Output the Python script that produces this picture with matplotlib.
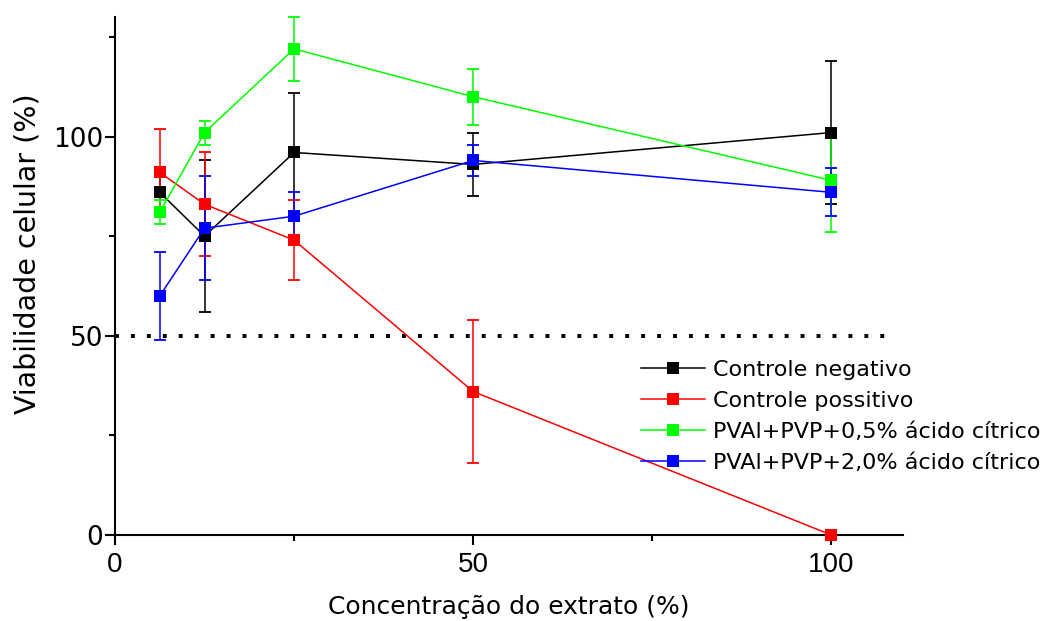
import matplotlib
matplotlib.use("Agg")
import matplotlib.pyplot as plt
from matplotlib.ticker import FixedLocator

plt.rcParams['font.family'] = ['DejaVu Sans']

# Extract concentration (%)
conc = [6.25, 12.5, 25, 50, 100]

# Cell viability (%) and standard deviations
neg_mean = [86, 75, 96, 93, 101]
neg_err = [5, 19, 15, 8, 18]

pos_mean = [91, 83, 74, 36, 0]
pos_err = [11, 13, 10, 18, 0]

pva05_mean = [81, 101, 122, 110, 89]
pva05_err = [3, 3, 8, 7, 13]

pva20_mean = [60, 77, 80, 94, 86]
pva20_err = [11, 13, 6, 4, 6]

labels = ["Controle negativo", "Controle possitivo",
          "PVAl+PVP+0,5% ácido cítrico", "PVAl+PVP+2,0% ácido cítrico"]
colors = ["#000000", "#ff0000", "#00ff00", "#0000ff"]

threshold = 50

fig = plt.figure(figsize=(10.54, 6.21), dpi=100)
ax = fig.add_axes([115 / 1054, 1 - 535 / 621, (903 - 115) / 1054, (535 - 17) / 621])

series = [(neg_mean, neg_err), (pos_mean, pos_err),
          (pva05_mean, pva05_err), (pva20_mean, pva20_err)]
for (m, e), lab, c in zip(series, labels, colors):
    ax.errorbar(conc, m, yerr=e, fmt='none', ecolor=c, elinewidth=1.1,
                capsize=4.4, capthick=1.3, clip_on=False, zorder=3)
    ax.plot(conc, m, color=c, lw=1.1, marker='s', markersize=9,
            markeredgewidth=0, label=lab, clip_on=False, zorder=4)

# Cytotoxicity threshold
ax.plot([0, 108.5], [threshold, threshold], color='black', lw=2.8,
        linestyle=(0, (1, 3.1)), dash_capstyle='butt', zorder=2)

ax.set_xlim(0, 110)
ax.set_ylim(0, 130)
ax.xaxis.set_major_locator(FixedLocator([0, 50, 100]))
ax.xaxis.set_minor_locator(FixedLocator([25, 75]))
ax.yaxis.set_major_locator(FixedLocator([0, 50, 100]))
ax.yaxis.set_minor_locator(FixedLocator([25, 75, 125]))

for s in ['top', 'right']:
    ax.spines[s].set_visible(False)
for s in ['left', 'bottom']:
    ax.spines[s].set_linewidth(1.5)

ax.tick_params(which='major', direction='out', length=7.5, width=1.5)
ax.tick_params(which='minor', direction='out', length=4.5, width=1.5)
ax.tick_params(axis='y', which='major', labelsize=19, pad=1)
ax.tick_params(axis='x', which='major', labelsize=19, pad=5)
for t in ax.get_xticklabels():
    t.set_fontfamily('Liberation Sans')
    t.set_fontsize(20)

ax.set_xlabel("Concentração do extrato (%)", fontsize=18, labelpad=12)
fig.text(28 / 1054, 1 - 254 / 621, "Viabilidade celular (%)", fontsize=20.5,
         rotation=90, ha='center', va='center')

leg = ax.legend(loc='upper left', bbox_to_anchor=(641 / 1054, 1 - 360 / 621),
                bbox_transform=fig.transFigure, frameon=False, fontsize=16,
                handlelength=2.9, handletextpad=0.32, labelspacing=0.49,
                borderaxespad=0, borderpad=0)

fig.savefig("out.png", dpi=100)
